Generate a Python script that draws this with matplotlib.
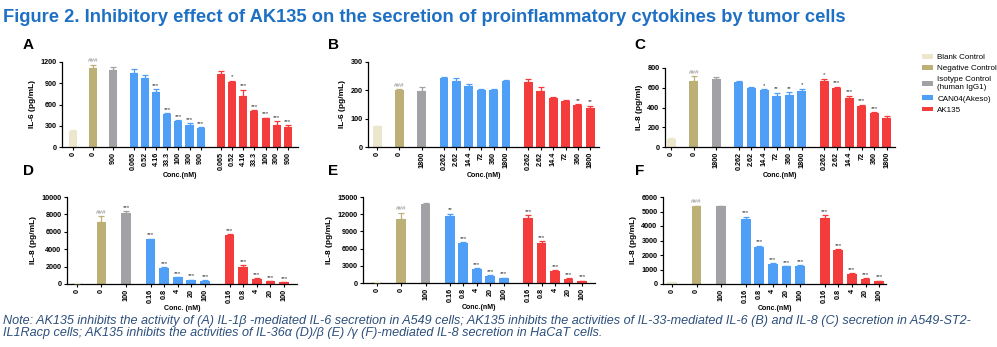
import numpy as np
import matplotlib
matplotlib.use("Agg")
import matplotlib.pyplot as plt
from matplotlib.patches import Patch

# group colours
group_colors = ['#ece6cc', '#bcb077', '#a2a2a6', '#4f9ff6', '#f43c3d']
group_names = ['Blank Control', 'Negative Control', 'Isotype Control\n(human IgG1)',
               'CAN04(Akeso)', 'AK135']

# ---- panel A: IL-1b -> IL-6, A549
a_ctrl_labels = ['0', '0', '900']
a_doses = ['0.065', '0.52', '4.16', '33.3', '100', '300', '900']
a_ctrl = [221, 1115, 1082]
a_ctrl_err = [15, 47, 47]
a_can = [1045, 974, 776, 466, 372, 306, 264]
a_can_err = [56, 38, 43, 8, 6, 33, 14]
a_ak = [1031, 913, 715, 513, 409, 315, 282]
a_ak_err = [42, 23, 94, 8, 6, 47, 29]
a_ctrl_sig = ['', '###', '']
a_can_sig = ['', '', '***', '***', '***', '***', '***']
a_ak_sig = ['', '*', '***', '***', '***', '***', '***']

# ---- panel B: IL-33 -> IL-6
b_ctrl_labels = ['0', '0', '1800']
b_doses = ['0.262', '2.62', '14.4', '72', '360', '1800']
b_ctrl = [73, 202, 196]
b_ctrl_err = [2, 2, 16]
b_can = [244, 234, 214, 200, 202, 232]
b_can_err = [3, 10, 8, 3, 3, 4]
b_ak = [228, 196, 173, 164, 147, 138]
b_ak_err = [13, 16, 3, 3, 4, 8]
b_ctrl_sig = ['', '###', '']
b_can_sig = ['', '', '', '', '', '']
b_ak_sig = ['', '', '', '', '**', '**']

# ---- panel C: IL-33 -> IL-8
c_ctrl_labels = ['0', '0', '1800']
c_doses = ['0.262', '2.62', '14.4', '72', '360', '1800']
c_ctrl = [84, 665, 692]
c_ctrl_err = [3, 54, 17]
c_can = [660, 601, 574, 516, 530, 570]
c_can_err = [5, 10, 10, 34, 23, 20]
c_ak = [668, 594, 500, 419, 346, 290]
c_ak_err = [23, 17, 20, 10, 8, 24]
c_ctrl_sig = ['', '###', '']
c_can_sig = ['', '', '*', '**', '**', '*']
c_ak_sig = ['*', '***', '***', '***', '***', '']

# ---- panel D: IL-36a -> IL-8
d_ctrl_labels = ['0', '0', '100']
d_doses = ['0.16', '0.8', '4', '20', '100']
d_ctrl = [120, 7137, 8206]
d_ctrl_err = [20, 690, 190]
d_can = [5115, 1794, 763, 458, 382]
d_can_err = [110, 110, 40, 30, 30]
d_ak = [5687, 1908, 610, 305, 190]
d_ak_err = [30, 270, 77, 30, 20]
d_ctrl_sig = ['', '###', '***']
d_can_sig = ['***', '***', '***', '***', '***']
d_ak_sig = ['***', '***', '***', '***', '***']

# ---- panel E: IL-36b -> IL-8
e_ctrl_labels = ['0', '0', '100']
e_doses = ['0.16', '0.8', '4', '20', '100']
e_ctrl = [115, 11250, 13730]
e_ctrl_err = [20, 980, 290]
e_can = [11770, 6920, 2480, 1270, 865]
e_can_err = [350, 170, 80, 115, 60]
e_ak = [11420, 7040, 2020, 750, 346]
e_ak_err = [400, 290, 170, 60, 40]
e_ctrl_sig = ['', '###', '']
e_can_sig = ['**', '***', '***', '***', '***']
e_ak_sig = ['***', '***', '***', '***', '***']

# ---- panel F: IL-36g -> IL-8
f_ctrl_labels = ['0', '0', '100']
f_doses = ['0.16', '0.8', '4', '20', '100']
f_ctrl = [114, 5360, 5360]
f_ctrl_err = [15, 40, 40]
f_can = [4517, 2578, 1392, 1209, 1255]
f_can_err = [114, 68, 45, 20, 25]
f_ak = [4563, 2350, 684, 350, 200]
f_ak_err = [180, 68, 69, 30, 20]
f_ctrl_sig = ['', '###', '']
f_can_sig = ['***', '***', '***', '***', '***']
f_ak_sig = ['***', '***', '***', '***', '***']

plt.rcParams['font.family'] = ['Liberation Sans', 'DejaVu Sans']

fig = plt.figure(figsize=(9.97, 3.47), dpi=100)
W, H = 997.0, 347.0


def add_ax(x0, x1, ytop, ybot):
    return fig.add_axes([x0 / W, 1 - ybot / H, (x1 - x0) / W, (ybot - ytop) / H])


def panel(ax, ctrl_labels, doses, ctrl, ctrl_err, can, can_err, ak, ak_err,
          ctrl_sig, can_sig, ak_sig, ymax, ystep, ylabel, xlim, xlab):
    gap = 1.8
    n = len(doses)
    pos = [0, gap, 2 * gap]
    pos += [2 * gap + gap + i for i in range(n)]
    pos += [pos[-1] + gap + i for i in range(n)]
    vals = ctrl + can + ak
    errs = ctrl_err + can_err + ak_err
    sigs = ctrl_sig + can_sig + ak_sig
    cols = group_colors[:3] + [group_colors[3]] * n + [group_colors[4]] * n
    labels = ctrl_labels + doses + doses
    ax.bar(pos, vals, width=0.72, color=cols, edgecolor='none', zorder=2)
    for x, v, e, c, s in zip(pos, vals, errs, cols, sigs):
        ax.errorbar([x], [v], yerr=[[0], [e]], fmt='none', ecolor=c,
                    elinewidth=0.9, capsize=2.2, capthick=0.9, zorder=3, clip_on=False)
        if s:
            ax.annotate(s, (x, v + e), xytext=(0, 1), textcoords='offset points',
                        ha='center', va='bottom', fontsize=4.5,
                        color='#8a8a8a' if s.startswith('#') else '#333333',
                        annotation_clip=False)
    ax.set_ylim(0, ymax)
    ax.set_yticks(np.arange(0, ymax + 1, ystep))
    ax.set_xlim(xlim)
    ax.set_xticks(pos)
    ax.set_xticklabels(labels, rotation=90, fontsize=5.2, fontweight='bold')
    ax.tick_params(axis='y', labelsize=5.2, length=2.5, width=0.8, pad=1.5)
    ax.tick_params(axis='x', length=2, width=0.8, pad=1.5)
    for lab in ax.get_yticklabels():
        lab.set_fontweight('bold')
    ax.set_ylabel(ylabel, fontsize=6, fontweight='bold', labelpad=3)
    ax.set_xlabel(xlab, fontsize=5, fontweight='bold', labelpad=1.5)
    for sp in ['top', 'right']:
        ax.spines[sp].set_visible(False)
    for sp in ['left', 'bottom']:
        ax.spines[sp].set_linewidth(0.9)


axA = add_ax(62, 298, 62, 147)
panel(axA, a_ctrl_labels, a_doses, a_ctrl, a_ctrl_err, a_can, a_can_err, a_ak, a_ak_err,
      a_ctrl_sig, a_can_sig, a_ak_sig, 1200, 300, 'IL-6 (pg/mL)', (-1.0, 20.1), 'Conc.(nM)')
axB = add_ax(368, 599, 62, 147)
panel(axB, b_ctrl_labels, b_doses, b_ctrl, b_ctrl_err, b_can, b_can_err, b_ak, b_ak_err,
      b_ctrl_sig, b_can_sig, b_ak_sig, 300, 100, 'IL-6 (pg/mL)', (-0.73, 17.9), 'Conc.(nM)')
axC = add_ax(665, 895, 68, 147)
panel(axC, c_ctrl_labels, c_doses, c_ctrl, c_ctrl_err, c_can, c_can_err, c_ak, c_ak_err,
      c_ctrl_sig, c_can_sig, c_ak_sig, 800, 200, 'IL-8 (pg/ml)', (-0.5, 17.85), 'Conc.(nM)')
axD = add_ax(67, 297, 197, 284)
panel(axD, d_ctrl_labels, d_doses, d_ctrl, d_ctrl_err, d_can, d_can_err, d_ak, d_ak_err,
      d_ctrl_sig, d_can_sig, d_ak_sig, 10000, 2000, 'IL-8 (pg/mL)', (-0.73, 16.15), 'Conc. (nM)')
axE = add_ax(363, 595, 197, 283)
panel(axE, e_ctrl_labels, e_doses, e_ctrl, e_ctrl_err, e_can, e_can_err, e_ak, e_ak_err,
      e_ctrl_sig, e_can_sig, e_ak_sig, 15000, 3000, 'IL-8 (pg/mL)', (-1.04, 16.16), 'Conc.(nM)')
axF = add_ax(663, 886, 197, 284)
panel(axF, f_ctrl_labels, f_doses, f_ctrl, f_ctrl_err, f_can, f_can_err, f_ak, f_ak_err,
      f_ctrl_sig, f_can_sig, f_ak_sig, 6000, 1000, 'IL-8 (pg/mL)', (-0.66, 15.7), 'Conc.(nM)')

# panel letters
for letter, x, y in [('A', 28, 45), ('B', 333, 45), ('C', 640, 45),
                     ('D', 28, 171), ('E', 333, 171), ('F', 640, 171)]:
    fig.text(x / W, 1 - y / H, letter, fontsize=11, fontweight='bold',
             ha='center', va='center')

# legend
handles = [Patch(facecolor=c, edgecolor='none') for c in group_colors]
fig.legend(handles, group_names, loc='upper left', bbox_to_anchor=(918 / W, 1 - 50 / H),
           frameon=False, fontsize=5.8, handlelength=1.3, handleheight=0.5,
           handletextpad=0.6, labelspacing=0.5, borderpad=0)

# title and note
fig.text(3 / W, 1 - 17 / H,
         'Figure 2. Inhibitory effect of AK135 on the secretion of proinflammatory cytokines by tumor cells',
         fontsize=13.2, fontweight='bold', color='#1e70c4', va='center')
fig.text(3 / W, 1 - 327 / H,
         'Note: AK135 inhibits the activity of (A) IL-1\u03b2 -mediated IL-6 secretion in A549 cells; '
         'AK135 inhibits the activities of IL-33-mediated IL-6 (B) and IL-8 (C) secretion in A549-ST2-\n'
         'IL1Racp cells; AK135 inhibits the activities of IL-36\u03b1 (D)/\u03b2 (E) /\u03b3 (F)-mediated '
         'IL-8 secretion in HaCaT cells.',
         fontsize=9.1, style='italic', color='#2d4f7c', va='center', linespacing=1.0)

fig.savefig('out.png', dpi=100)
